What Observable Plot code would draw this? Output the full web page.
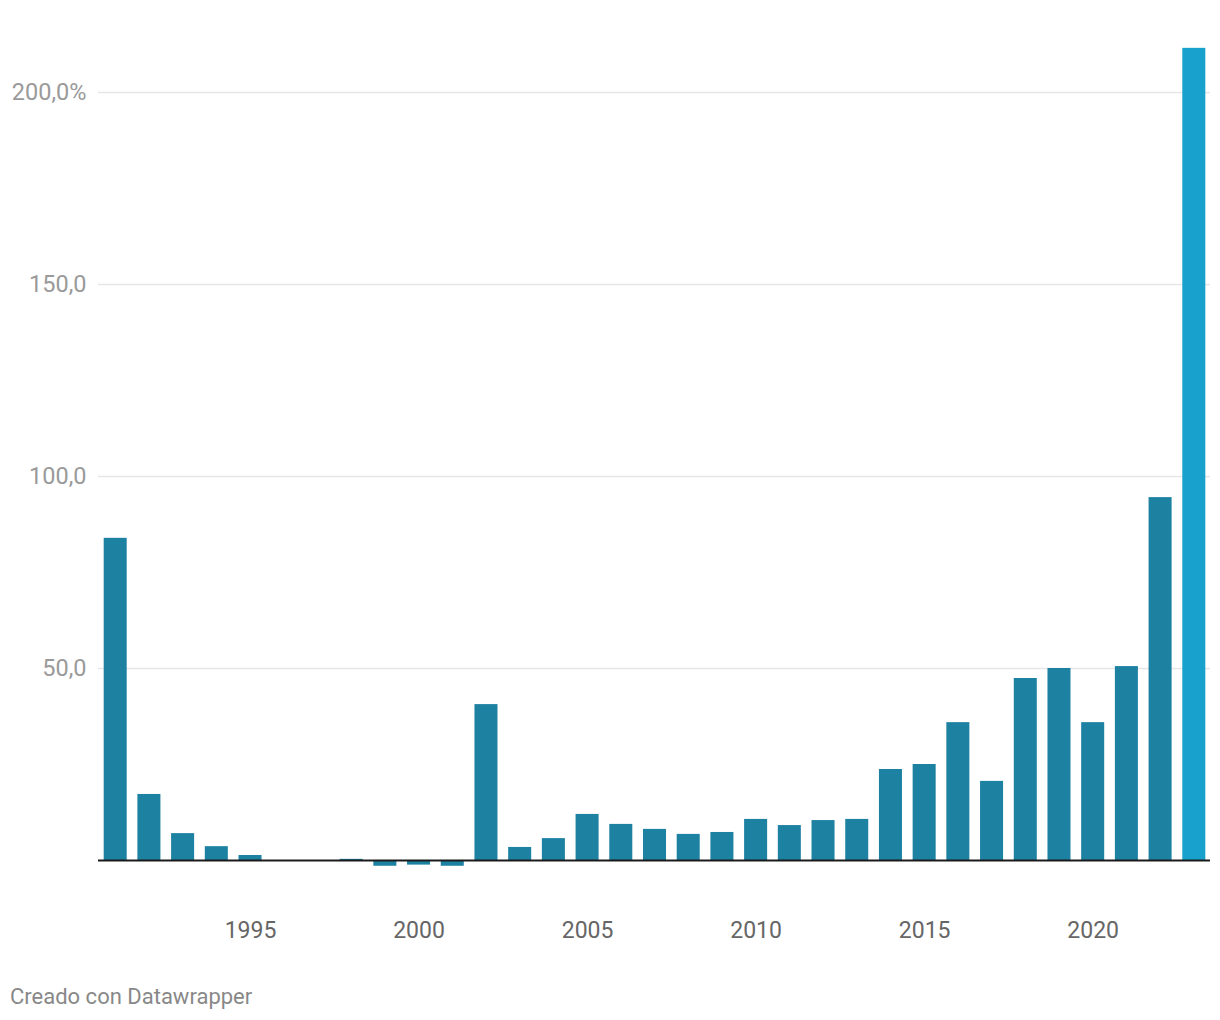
<!DOCTYPE html>
<html>
<head>
<meta charset="utf-8">
<script src="https://cdn.jsdelivr.net/npm/d3@7"></script>
<script src="https://cdn.jsdelivr.net/npm/@observablehq/plot@0.6"></script>
<style>
  html, body { margin: 0; padding: 0; background: #fff; }
  body { width: 1220px; font-family: Roboto, "Noto Sans", sans-serif; }
  #footer { font-family: Roboto, sans-serif; font-size: 22px; color: #888; padding-left: 10px; margin-top: 25px; line-height: 24px; }
</style>
</head>
<body>
<div id="chart"></div>
<div id="footer">Creado con Datawrapper</div>
<script>
const years = [1991,1992,1993,1994,1995,1996,1997,1998,1999,2000,2001,2002,2003,2004,2005,2006,2007,2008,2009,2010,2011,2012,2013,2014,2015,2016,2017,2018,2019,2020,2021,2022,2023];
const values = [83.9,17.2,7.0,3.6,1.3,0,0,0.3,-1.5,-1.2,-1.5,40.6,3.4,5.7,12.0,9.4,8.1,6.8,7.3,10.7,9.1,10.4,10.7,23.7,25.0,35.9,20.6,47.4,50.0,35.9,50.5,94.5,211.5];
const highlightYear = 2023;
const yTicks = [50, 100, 150, 200];
const xTicks = [1995, 2000, 2005, 2010, 2015, 2020];

const data = years.map((y, i) => ({year: y, value: values[i], hi: y === highlightYear}));

const chart = Plot.plot({
  width: 1220,
  height: 960,
  marginTop: 92,
  marginBottom: 100,
  marginLeft: 93,
  marginRight: 4,
  style: {fontFamily: "Roboto, sans-serif", fontSize: "23px", background: "#fff"},
  x: {type: "band", domain: years, padding: 0.317, round: false, label: null},
  y: {domain: [0, 200], label: null},
  marks: [
    Plot.ruleY(yTicks, {stroke: "#e6e6e6", strokeWidth: 1.5, insetLeft: 5, insetRight: 6}),
    Plot.barY(data, {x: "year", y: "value", fill: d => d.hi ? "#18a1cd" : "#1d81a2"}),
    Plot.ruleY([0], {stroke: "#1a1a1a", strokeWidth: 2, insetLeft: 5, insetRight: 6}),
    Plot.axisY({ticks: yTicks, tickSize: 0, tickPadding: 7, fontSize: 23.5, tickFormat: d => d.toFixed(1).replace(".", ",") + (d === 200 ? "%" : ""), fill: "#9a9a9a", label: null}),
    Plot.axisX({ticks: xTicks, tickSize: 0, tickPadding: 61, fill: "#666", label: null, tickFormat: d => String(d)})
  ]
});
document.getElementById("chart").appendChild(chart);
</script>
</body>
</html>
